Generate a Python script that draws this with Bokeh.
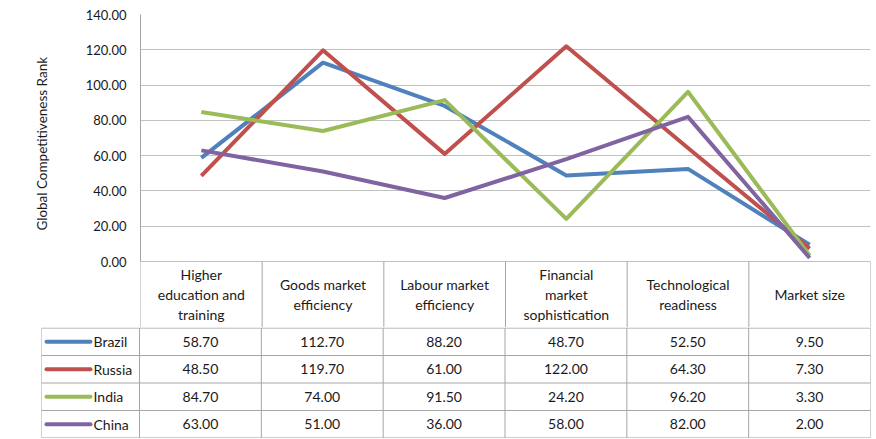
from bokeh.plotting import figure
from bokeh.models import Range1d, FixedTicker, NumeralTickFormatter, Title
from bokeh.core.properties import value
from bokeh.embed import file_html
from bokeh.resources import INLINE

categories = ["Higher\neducation and\ntraining", "Goods market\nefficiency", "Labour market\nefficiency",
              "Financial\nmarket\nsophistication", "Technological\nreadiness", "Market size"]
countries = ["Brazil", "Russia", "India", "China"]
brazil = [58.7, 112.7, 88.2, 48.7, 52.5, 9.5]
russia = [48.5, 119.7, 61.0, 122.0, 64.3, 7.3]
india = [84.7, 74.0, 91.5, 24.2, 96.2, 3.3]
china = [63.0, 51.0, 36.0, 58.0, 82.0, 2.0]
series = [brazil, russia, india, china]
colors = ["#4F81BD", "#C0504D", "#9BBB59", "#8064A2"]
y_ticks = [0, 20, 40, 60, 80, 100, 120, 140]
y_title = "Global Competitiveness  Rank"

FONT = "Lato"
GRID = "#C0C0C0"
TABLE = "#A6A6A6"
TXT = "#1a1a1a"
n = len(categories)
centers = [i + 0.5 for i in range(n)]

# ---------- chart + header row ----------
Y_MIN = -37.4
p1 = figure(width=872, height=327, output_backend="svg", toolbar_location=None,
            x_range=Range1d(0, n), y_range=Range1d(Y_MIN, 140),
            min_border_left=139, min_border_right=2, min_border_top=14, min_border_bottom=0)
p1.outline_line_color = None
p1.xaxis.visible = False
p1.xgrid.grid_line_color = None
p1.ygrid.ticker = FixedTicker(ticks=y_ticks)
p1.ygrid.grid_line_color = GRID
p1.yaxis.ticker = FixedTicker(ticks=y_ticks)
p1.yaxis.bounds = (min(y_ticks), max(y_ticks))
p1.yaxis.formatter = NumeralTickFormatter(format="0.00")
p1.yaxis.major_tick_line_color = None
p1.yaxis.minor_tick_line_color = None
p1.yaxis.axis_line_color = TABLE
p1.yaxis.major_label_text_font = FONT
p1.yaxis.major_label_text_font_size = "13px"
p1.yaxis.major_label_text_color = TXT
p1.yaxis.major_label_standoff = 8

ytitle = Title(text=y_title, align="right", offset=39, vertical_align="middle",
               text_font=FONT, text_font_size="13.5px", text_font_style="normal",
               text_color=TXT, standoff=64)
p1.add_layout(ytitle, "left")

# vertical dividers of the header row
p1.segment(x0=list(range(n + 1)), x1=list(range(n + 1)), y0=[Y_MIN] * (n + 1), y1=[0] * (n + 1),
           line_color=TABLE, line_width=1)
p1.text(x=centers, y=[Y_MIN / 2] * n, text=categories, text_font=value(FONT), text_font_size="14px",
        text_align="center", text_baseline="middle", text_line_height=1.2, text_color=TXT)

for vals, col in zip(series, colors):
    p1.line(x=centers, y=vals, line_color=col, line_width=4, line_join="round")

# ---------- data table rows ----------
unit = 731 / n
LEG_W = 98 / unit
nr = len(countries)
p2 = figure(width=872, height=111, output_backend="svg", toolbar_location=None,
            x_range=Range1d(-LEG_W, n), y_range=Range1d(nr + 0.02, -0.02),
            min_border_left=41, min_border_right=2, min_border_top=0, min_border_bottom=0)
p2.outline_line_color = None
p2.axis.visible = False
p2.grid.visible = False

p2.segment(x0=[-LEG_W] * (nr + 1), x1=[n] * (nr + 1), y0=list(range(nr + 1)), y1=list(range(nr + 1)),
           line_color=TABLE, line_width=1)
vx = [-LEG_W] + list(range(n + 1))
p2.segment(x0=vx, x1=vx, y0=[0] * len(vx), y1=[nr] * len(vx), line_color=TABLE, line_width=1)

rows_y = [r + 0.5 for r in range(nr)]
p2.segment(x0=[-LEG_W + 5 / unit] * nr, x1=[-LEG_W + 49 / unit] * nr, y0=rows_y, y1=rows_y,
           line_color=colors, line_width=4, line_cap="round")
p2.text(x=[-LEG_W + 52 / unit] * nr, y=rows_y, text=countries, text_font=value(FONT),
        text_font_size="14px", text_align="left", text_baseline="middle", text_color=TXT)

xs, ys, ts = [], [], []
for r, vals in enumerate(series):
    for c, v in enumerate(vals):
        xs.append(centers[c]); ys.append(r + 0.5); ts.append(f"{v:.2f}")
p2.text(x=xs, y=ys, text=ts, text_font=value(FONT), text_font_size="14px",
        text_align="center", text_baseline="middle", text_color=TXT)

open("out.html", "w").write(file_html([p1, p2], INLINE))
